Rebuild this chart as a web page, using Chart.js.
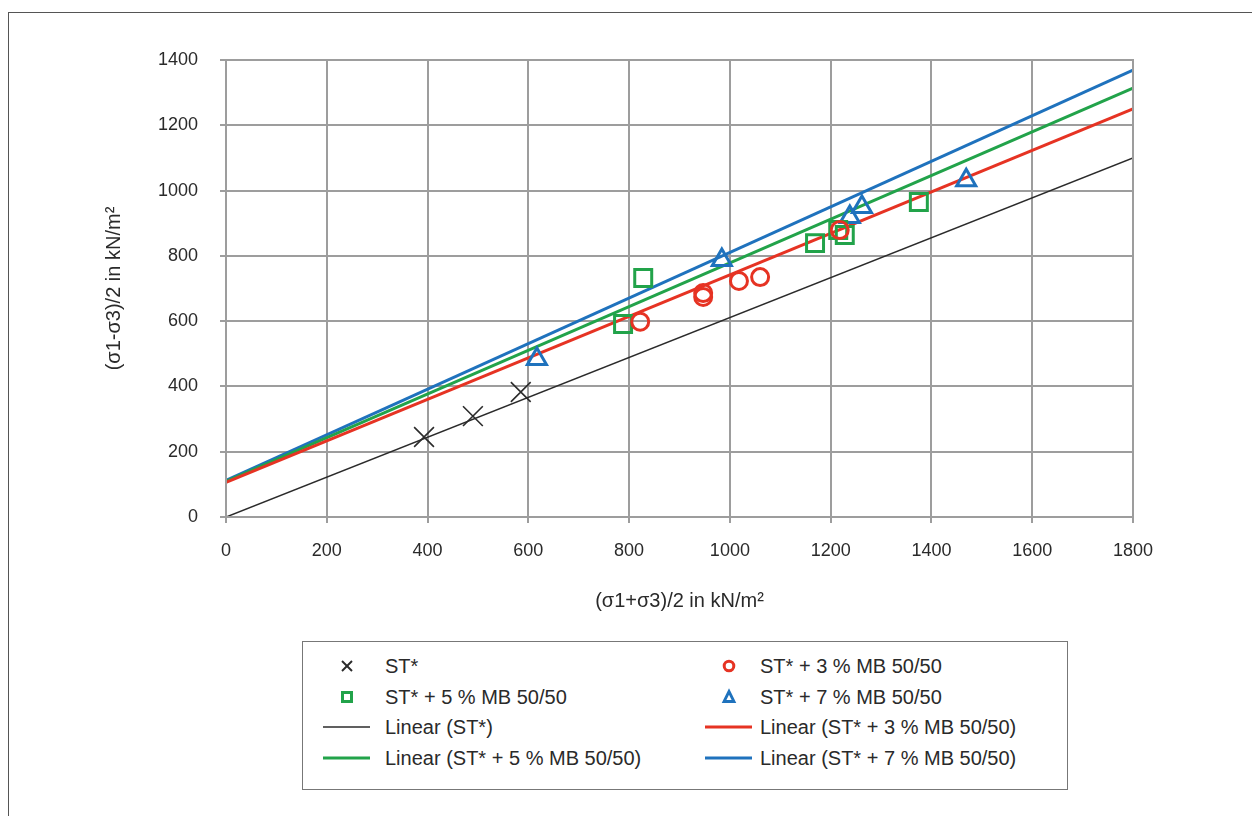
<!DOCTYPE html>
<html>
<head>
<meta charset="utf-8">
<script src="https://cdn.jsdelivr.net/npm/chart.js@4"></script>
<style>
  html, body { margin:0; padding:0; background:#fff; }
  body { width:1252px; height:816px; position:relative; overflow:hidden; font-family:"Liberation Sans", Arial, sans-serif; }
  #frame { position:absolute; left:8px; top:12px; width:1300px; height:900px; border-left:1.5px solid #555; border-top:1.5px solid #555; }
  #wrap { position:absolute; left:0; top:0; width:1252px; height:816px; }
  #legend { position:absolute; left:302px; top:641px; width:766px; height:149px; border:1.5px solid #777; box-sizing:border-box; background:#fff; }
  .item { position:absolute; font-size:20px; color:#2a2a2a; white-space:nowrap; line-height:22px; }
  .item svg { position:absolute; top:1px; }
</style>
</head>
<body>
<div id="frame"></div>
<div id="wrap"><canvas id="c" width="1252" height="816"></canvas></div>
<div id="legend"></div>
<script>
// ---- data ----
const xTicks = [0,200,400,600,800,1000,1200,1400,1600,1800];
const yTicks = [0,200,400,600,800,1000,1200,1400];

const stX  = [393, 490, 585];
const stY  = [245, 309, 383];

const mb3X = [822, 947, 947, 1018, 1060, 1218];
const mb3Y = [598, 686, 674, 723, 735, 879];

const mb5X = [788, 828, 1169, 1215, 1228, 1375];
const mb5Y = [591, 732, 839, 879, 864, 965];

const mb7X = [617, 984, 1238, 1262, 1469];
const mb7Y = [484, 787, 919, 950, 1032];

const trendX    = [0, 1800];
const stLineY   = [0, 1100];
const mb3LineY  = [106, 1250];
const mb5LineY  = [109, 1314];
const mb7LineY  = [112, 1369];

const seriesNames = ['ST*', 'ST* + 3 % MB 50/50', 'ST* + 5 % MB 50/50', 'ST* + 7 % MB 50/50'];
const colBlack = '#2b2b2b', colRed = '#e63323', colGreen = '#22a34a', colBlue = '#1f72bd';

const pts = (xs, ys) => xs.map((x, i) => ({x, y: ys[i]}));

const datasets = [
  { label:'Linear (ST*)', type:'line', data: pts(trendX, stLineY), borderColor:colBlack, borderWidth:1.6, pointRadius:0, order:5 },
  { label:'Linear (ST* + 3 % MB 50/50)', type:'line', data: pts(trendX, mb3LineY), borderColor:colRed, borderWidth:3, pointRadius:0, order:4 },
  { label:'Linear (ST* + 5 % MB 50/50)', type:'line', data: pts(trendX, mb5LineY), borderColor:colGreen, borderWidth:3, pointRadius:0, order:4 },
  { label:'Linear (ST* + 7 % MB 50/50)', type:'line', data: pts(trendX, mb7LineY), borderColor:colBlue, borderWidth:3, pointRadius:0, order:4 },
  { label:seriesNames[0], data: pts(stX, stY), pointStyle:'crossRot', pointRadius:14, borderColor:colBlack, borderWidth:1.6, backgroundColor:'transparent', showLine:false, order:1 },
  { label:seriesNames[1], data: pts(mb3X, mb3Y), pointStyle:'circle', pointRadius:8.5, borderColor:colRed, borderWidth:3, backgroundColor:'transparent', showLine:false, order:1 },
  { label:seriesNames[2], data: pts(mb5X, mb5Y), pointStyle:'rect', pointRadius:12, borderColor:colGreen, borderWidth:3, backgroundColor:'transparent', showLine:false, order:1 },
  { label:seriesNames[3], data: pts(mb7X, mb7Y), pointStyle:'triangle', pointRadius:11, borderColor:colBlue, borderWidth:3, backgroundColor:'transparent', showLine:false, order:1 },
];

const family = '"Liberation Sans", Arial, sans-serif';
const font = { family, size:18 };

new Chart(document.getElementById('c'), {
  type:'scatter',
  data:{ datasets },
  options:{
    responsive:false, animation:false,
    layout:{ padding:{ left:100, top:60, right:119, bottom:196 } },
    plugins:{ legend:{ display:false }, tooltip:{ enabled:false } },
    scales:{
      x:{
        type:'linear', min:0, max:1800,
        afterBuildTicks: s => { s.ticks = xTicks.map(v => ({value:v})); },
        afterFit: s => { s.height = 816 - 196 - 517; },
        ticks:{ font, color:'#2a2a2a', padding:17, callback: v => String(v) },
        grid:{ color:'#9d9d9d', lineWidth:2, tickLength:6, drawTicks:true },
        border:{ color:'#9d9d9d', width:2 },
        title:{ display:true, text:'(σ1+σ3)/2 in kN/m²', font:{ family, size:20 }, color:'#2a2a2a', padding:{top:0,bottom:7} }
      },
      y:{
        type:'linear', min:0, max:1400,
        afterBuildTicks: s => { s.ticks = yTicks.map(v => ({value:v})); },
        afterFit: s => { s.width = 126; },
        ticks:{ font, color:'#2a2a2a', padding:22, callback: v => String(v) },
        grid:{ color:'#9d9d9d', lineWidth:2, tickLength:6 },
        border:{ color:'#9d9d9d', width:2 },
        title:{ display:true, text:'(σ1-σ3)/2 in kN/m²', font:{ family, size:20 }, color:'#2a2a2a', padding:{top:2,bottom:0} }
      }
    }
  },
  plugins:[{
    id:'frameBox',
    afterDraw(chart){
      const {ctx, chartArea:a} = chart;
      ctx.save(); ctx.strokeStyle='#9d9d9d'; ctx.lineWidth=2;
      ctx.strokeRect(a.left, a.top, a.right-a.left, a.bottom-a.top);
      ctx.restore();
    }
  }]
});

// ---- HTML legend ----
const legendItems = [
  { text:seriesNames[0], kind:'x', color:colBlack, col:0, row:0 },
  { text:seriesNames[1], kind:'o', color:colRed, col:1, row:0 },
  { text:seriesNames[2], kind:'s', color:colGreen, col:0, row:1 },
  { text:seriesNames[3], kind:'t', color:colBlue, col:1, row:1 },
  { text:'Linear (ST*)', kind:'l', color:colBlack, col:0, row:2, w:1.6 },
  { text:'Linear (ST* + 3 % MB 50/50)', kind:'l', color:colRed, col:1, row:2, w:3 },
  { text:'Linear (ST* + 5 % MB 50/50)', kind:'l', color:colGreen, col:0, row:3, w:3 },
  { text:'Linear (ST* + 7 % MB 50/50)', kind:'l', color:colBlue, col:1, row:3, w:3 },
];
const leg = document.getElementById('legend');
const colText = [82, 457], colSym = [-62, -55], rowY = [13, 44, 74, 105];
function symbol(it){
  const c = it.color;
  switch(it.kind){
    case 'x': return `<line x1="19" y1="5" x2="29" y2="15" stroke="${c}" stroke-width="1.9"/><line x1="29" y1="5" x2="19" y2="15" stroke="${c}" stroke-width="1.9"/>`;
    case 'o': return `<circle cx="24" cy="10" r="4.8" fill="none" stroke="${c}" stroke-width="3"/>`;
    case 's': return `<rect x="19.5" y="5.5" width="9" height="9" fill="none" stroke="${c}" stroke-width="3"/>`;
    case 't': return `<polygon points="24,4.5 29,14.5 19,14.5" fill="none" stroke="${c}" stroke-width="2.8"/>`;
    default: return `<line x1="0" y1="10" x2="47" y2="10" stroke="${c}" stroke-width="${it.w}"/>`;
  }
}
legendItems.forEach(it => {
  const d = document.createElement('div');
  d.className = 'item';
  d.style.left = colText[it.col] + 'px';
  d.style.top = rowY[it.row] + 'px';
  d.innerHTML = `<svg width="48" height="20" style="left:${colSym[it.col]}px" viewBox="0 0 48 20">${symbol(it)}</svg>${it.text}`;
  leg.appendChild(d);
});
</script>
</body>
</html>
